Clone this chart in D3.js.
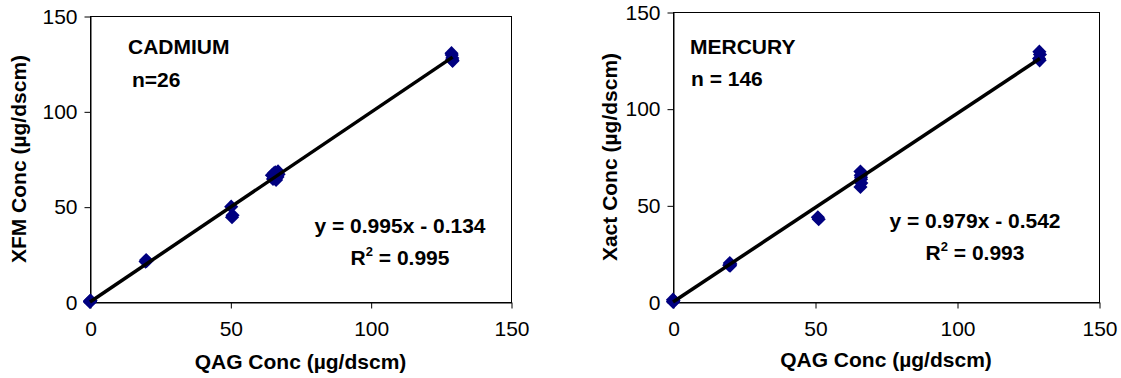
<!DOCTYPE html>
<html>
<head>
<meta charset="utf-8">
<script src="https://cdn.jsdelivr.net/npm/d3@7"></script>
<style>
  html, body { margin: 0; padding: 0; background: #fff; }
  svg { display: block; font-family: "Liberation Sans", Arial, sans-serif; }
</style>
</head>
<body>
<svg id="chart" width="1121" height="378"></svg>
<script>
// ---- data ----
const tickValues = [0, 50, 100, 150];
const xTitles = ["QAG Conc (µg/dscm)", "QAG Conc (µg/dscm)"];
const yTitles = ["XFM Conc (µg/dscm)", "Xact Conc (µg/dscm)"];
const metalNames = ["CADMIUM", "MERCURY"];
const countLabels = ["n=26", "n = 146"];
const eqLabels = ["y = 0.995x - 0.134", "y = 0.979x - 0.542"];
const r2Values = ["0.995", "0.993"];
const fitSlopes = [0.995, 0.979];
const fitIntercepts = [-0.134, -0.542];

const cadmiumX = [0, 0, 0, 19.8, 20, 20.2, 50.3, 50.6, 50.8, 64.8, 65.2, 65.5, 65.8, 66, 66.3, 66.6, 67, 67.2, 65.5, 66.8, 128.8, 129, 129.2, 128.9, 129.1, 0.2];
const cadmiumY = [0, 0.5, 0.2, 21.2, 22, 21.5, 50, 44.5, 45.5, 66.5, 64.5, 67.5, 65, 68, 64, 66, 68.5, 67, 66, 65.5, 130.5, 127, 126.5, 129.5, 128, 0.8];

const mercuryX = [0, 0, 0.2, 19.8, 20, 20.2, 51, 51.3, 66, 66.1, 66.2, 66.3, 66, 66.2, 129, 129.2, 128.9, 129.1, 0.1, 20.1];
const mercuryY = [0.3, 1.2, 0.8, 19, 20.2, 19.6, 43.8, 42.8, 67.5, 65.5, 63.5, 61.5, 59.5, 64.5, 129.5, 128, 126, 125, 0, 18.8];

const seriesX = [cadmiumX, mercuryX];
const seriesY = [cadmiumY, mercuryY];

// ---- layout ----
const panels = [
  { left: 90, right: 511, top: 16, bottom: 302, yTitleX: 26, xTitleY: 369,
    nameX: 128, nameY: 54, countX: 132, countY: 87, eqX: 400, eqY: 233, r2Y: 265 },
  { left: 673, right: 1099, top: 12, bottom: 302, yTitleX: 617, xTitleY: 367,
    nameX: 690, nameY: 54, countX: 691, countY: 86, eqX: 975, eqY: 228, r2Y: 260 }
];

const svg = d3.select("#chart");

panels.forEach((p, i) => {
  const x = d3.scaleLinear().domain([0, 150]).range([p.left, p.right]);
  const y = d3.scaleLinear().domain([0, 150]).range([p.bottom, p.top]);
  const g = svg.append("g");

  // plot box
  g.append("rect")
    .attr("x", p.left + 0.5).attr("y", p.top + 0.5)
    .attr("width", p.right - p.left).attr("height", p.bottom - p.top)
    .attr("fill", "none").attr("stroke", "#000").attr("stroke-width", 1);

  // axes
  const xAxis = g.append("g")
    .attr("transform", `translate(0.5,${p.bottom + 0.5})`)
    .call(d3.axisBottom(x).tickValues(tickValues).tickSize(6).tickSizeOuter(0).tickPadding(13));
  const yAxis = g.append("g")
    .attr("transform", `translate(${p.left + 0.5},0.5)`)
    .call(d3.axisLeft(y).tickValues(tickValues).tickSize(6).tickSizeOuter(0).tickPadding(7));
  [xAxis, yAxis].forEach(a => {
    a.select(".domain").attr("stroke", "#000");
    a.selectAll(".tick line").attr("stroke", "#000");
    a.selectAll(".tick text")
      .attr("fill", "#000")
      .style("font-family", '"Liberation Sans", Arial, sans-serif')
      .style("font-size", "21px");
  });

  // axis titles
  g.append("text")
    .attr("x", (p.left + p.right) / 2).attr("y", p.xTitleY)
    .attr("text-anchor", "middle")
    .style("font-size", "21px").style("font-weight", "bold")
    .text(xTitles[i]);
  g.append("text")
    .attr("transform", `translate(${p.yTitleX},${(p.top + p.bottom) / 2}) rotate(-90)`)
    .attr("text-anchor", "middle")
    .style("font-size", "21px").style("font-weight", "bold")
    .text(yTitles[i]);

  // points (square diamonds)
  const pts = seriesX[i].map((v, k) => [v, seriesY[i][k]]);
  const marker = d3.symbol().type(d3.symbolSquare).size(100);
  g.append("g").selectAll("path")
    .data(pts).join("path")
    .attr("d", marker)
    .attr("transform", d => `translate(${x(d[0])},${y(d[1])}) rotate(45)`)
    .attr("fill", "#000080");

  // trend line
  const xMax = d3.max(seriesX[i]);
  const line = d3.line().x(d => x(d[0])).y(d => y(d[1]));
  g.append("path")
    .datum([[0, Math.max(0, fitIntercepts[i])], [xMax, fitSlopes[i] * xMax + fitIntercepts[i]]])
    .attr("d", line)
    .attr("fill", "none").attr("stroke", "#000").attr("stroke-width", 3.5);

  // annotations
  const ann = (tx, ty, txt, anchor) => g.append("text")
    .attr("x", tx).attr("y", ty)
    .attr("text-anchor", anchor || "start")
    .style("font-size", "21px").style("font-weight", "bold")
    .text(txt);
  ann(p.nameX, p.nameY, metalNames[i]);
  ann(p.countX, p.countY, countLabels[i]);
  ann(p.eqX, p.eqY, eqLabels[i], "middle");
  const r2 = g.append("text")
    .attr("x", p.eqX).attr("y", p.r2Y)
    .attr("text-anchor", "middle")
    .style("font-size", "21px").style("font-weight", "bold");
  r2.append("tspan").text("R");
  r2.append("tspan").attr("dy", -9).style("font-size", "13px").text("2");
  r2.append("tspan").attr("dy", 9).text(" = " + r2Values[i]);
});
</script>
</body>
</html>
